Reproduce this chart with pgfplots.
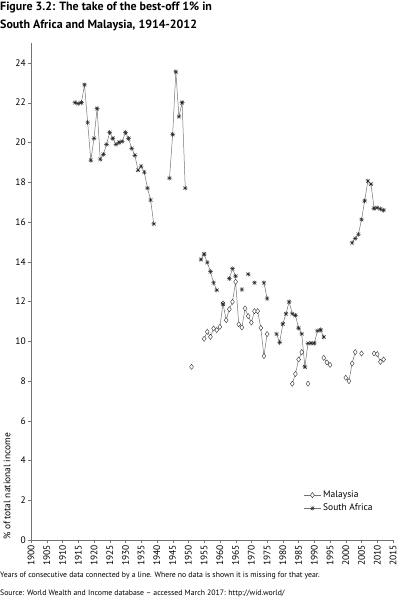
\documentclass[border=0pt]{standalone}
\usepackage{fontspec}
\setmainfont{PT Sans}
\usepackage{pgfplots}
\pgfplotsset{compat=1.18}
\pgfdeclareplotmark{sastar}{%
  \pgfpathmoveto{\pgfqpoint{-\pgfplotmarksize}{0pt}}\pgfpathlineto{\pgfqpoint{\pgfplotmarksize}{0pt}}%
  \pgfpathmoveto{\pgfqpoint{0pt}{-\pgfplotmarksize}}\pgfpathlineto{\pgfqpoint{0pt}{\pgfplotmarksize}}%
  \pgfpathmoveto{\pgfqpoint{-0.75\pgfplotmarksize}{-0.75\pgfplotmarksize}}\pgfpathlineto{\pgfqpoint{0.75\pgfplotmarksize}{0.75\pgfplotmarksize}}%
  \pgfpathmoveto{\pgfqpoint{-0.75\pgfplotmarksize}{0.75\pgfplotmarksize}}\pgfpathlineto{\pgfqpoint{0.75\pgfplotmarksize}{-0.75\pgfplotmarksize}}%
  \pgfusepathqstroke}
\begin{document}
\begin{tikzpicture}[x=1bp,y=1bp]
\useasboundingbox (0,0) rectangle (399,604);
\node[anchor=base west, inner sep=0, font=\bfseries\fontsize{12}{14}\selectfont] at (0,593) {Figure 3.2: The take of the best-off 1\% in};
\node[anchor=base west, inner sep=0, font=\bfseries\fontsize{12}{14}\selectfont] at (0,575.7) {South Africa and Malaysia, 1914-2012};
\node[anchor=base west, inner sep=0, font=\fontsize{7.8}{9}\selectfont] at (0,26) {Years of consecutive data connected by a line. Where no data is shown it is missing for that year.};
\node[anchor=base west, inner sep=0, font=\fontsize{7.8}{9}\selectfont] at (0,8) {Source: World Wealth and Income database -- accessed March 2017: http://wid.world/};
\node[rotate=90, anchor=west, inner sep=0, font=\fontsize{9.5}{11}\selectfont] at (7,64) {\% of total national income};
\begin{axis}[
  at={(31bp,64bp)}, anchor=south west, scale only axis,
  width=362bp, height=497bp,
  xmin=1900, xmax=2015, ymin=0, ymax=25,
  axis x line=bottom, axis y line=left,
  axis line style={-, black!55},
  xtick={1900,1905,...,2015}, ytick={0,2,...,24},
  tick align=outside, major tick length=3bp,
  tick style={black!55},
  /pgf/number format/assume math mode=true,
  /pgf/number format/1000 sep={},
  x tick label style={rotate=90, anchor=east, font=\fontsize{9.5}{11}\selectfont, inner sep=2pt},
  y tick label style={font=\fontsize{9.5}{11}\selectfont, inner sep=2pt},
  unbounded coords=jump,
  clip=false,
  legend style={draw=none, fill=none, at={(0.75,0.105)}, anchor=north west,
    font=\fontsize{9.5}{11}\selectfont, row sep=1pt, inner sep=1pt},
  legend cell align=left,
]
\addplot[color=black!55, line width=0.5pt, mark=diamond*, mark size=2.6bp,
  mark options={draw=black!80, fill=white, line width=0.4pt}] coordinates {
(1951,8.71)
(1952,nan)
(1955,10.12) (1956,10.47) (1957,10.22) (1958,10.64) (1959,10.56) (1960,10.72)
(1961,11.90) (1962,11.06) (1963,11.61) (1964,11.98) (1965,12.99) (1966,10.85)
(1967,10.69) (1968,11.65) (1969,11.26) (1970,10.94) (1971,11.51) (1972,11.51)
(1973,10.67) (1974,9.25) (1975,10.36)
(1976,nan)
(1983,7.86) (1984,8.35) (1985,9.08) (1986,9.45)
(1987,nan)
(1988,7.86)
(1989,nan)
(1993,9.16) (1994,8.93) (1995,8.81)
(1996,nan)
(2000,8.16) (2001,7.99) (2002,8.88) (2003,9.45)
(2004,nan)
(2005,9.38)
(2006,nan)
(2009,9.38) (2010,9.35) (2011,8.96) (2012,9.08)
};
\addlegendentry{Malaysia}
\addplot[color=black!55, line width=0.5pt, mark=sastar, mark size=2.4bp,
  mark options={draw=black!85, line width=0.4pt}] coordinates {
(1914,22.0) (1915,21.95) (1916,22.0) (1917,22.9) (1918,21.0) (1919,19.1)
(1920,20.2) (1921,21.7) (1922,19.15) (1923,19.4) (1924,19.9) (1925,20.5)
(1926,20.2) (1927,19.9) (1928,20.0) (1929,20.05) (1930,20.5) (1931,20.2)
(1932,19.7) (1933,19.35) (1934,18.6) (1935,18.8) (1936,18.5) (1937,17.7)
(1938,17.1) (1939,15.9)
(1940,nan)
(1944,18.2) (1945,20.4) (1946,23.55) (1947,21.3) (1948,22.0) (1949,17.7)
(1950,nan)
(1954,14.11) (1955,14.38) (1956,13.96) (1957,13.5) (1958,12.94) (1959,12.57)
(1960,nan)
(1961,11.87)
(1962,nan)
(1963,13.15) (1964,13.65) (1965,13.27)
(1966,nan)
(1967,12.6)
(1968,nan)
(1969,13.37)
(1970,nan)
(1971,12.94)
(1972,nan)
(1974,12.94) (1975,12.15)
(1976,nan)
(1978,10.36) (1979,9.94) (1980,10.87) (1981,11.38) (1982,11.98) (1983,11.38)
(1984,11.30) (1985,10.66) (1986,10.37) (1987,8.71) (1988,9.89) (1989,9.90)
(1990,9.90) (1991,10.52) (1992,10.57) (1993,10.21)
(1994,nan)
(2002,14.95) (2003,15.17) (2004,15.38) (2005,16.12) (2006,17.06) (2007,18.06)
(2008,17.9) (2009,16.68) (2010,16.71) (2011,16.65) (2012,16.59)
};
\addlegendentry{South Africa}
\end{axis}
\end{tikzpicture}
\end{document}
